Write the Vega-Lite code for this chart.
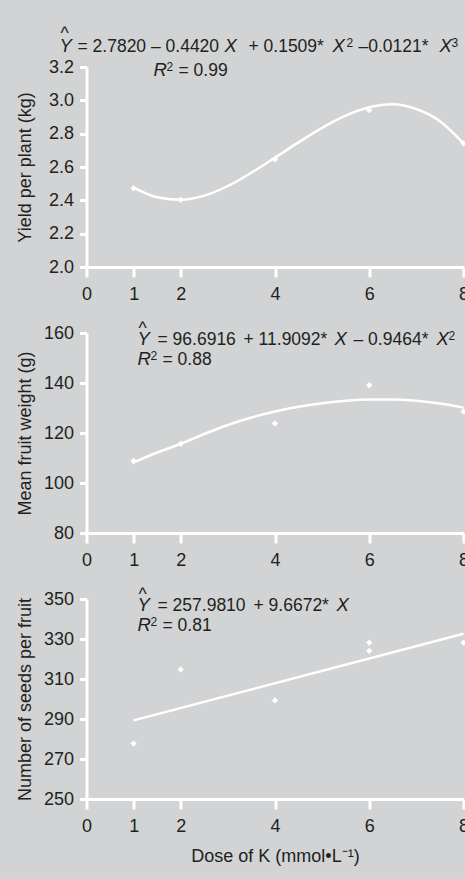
{
  "$schema": "https://vega.github.io/schema/vega-lite/v6.json",
  "background": "#d1d3d4",
  "padding": {"left": 15.5, "top": 25, "right": 5, "bottom": 14},
  "bounds": "flush",
  "spacing": 66,
  "datasets": {
    "pts1": [{"x":1,"y":2.472},{"x":2,"y":2.403},{"x":4,"y":2.646},{"x":6,"y":2.941},{"x":8,"y":2.742}],
    "fit1": [{"x":1,"y":2.476},{"x":1.5,"y":2.418},{"x":2,"y":2.403},{"x":2.5,"y":2.428},{"x":3,"y":2.486},{"x":3.5,"y":2.566},{"x":4,"y":2.656},{"x":4.5,"y":2.748},{"x":5,"y":2.835},{"x":5.5,"y":2.908},{"x":6,"y":2.958},{"x":6.5,"y":2.977},{"x":7,"y":2.948},{"x":7.5,"y":2.875},{"x":8,"y":2.742}],
    "eq1r": [{"x":-0.552,"y":3.368,"label":"^"},{"x":-0.191,"y":3.29,"label":"= 2.7820 – 0.4420"},{"x":3.437,"y":3.29,"label":"+ 0.1509*"},{"x":5.772,"y":3.29,"label":"–0.0121*"},{"x":1.952,"y":3.146,"label":"= 0.99"}],
    "eq1i": [{"x":-0.573,"y":3.29,"label":"Y"},{"x":2.928,"y":3.29,"label":"X"},{"x":5.22,"y":3.29,"label":"X"},{"x":7.49,"y":3.29,"label":"X"},{"x":1.422,"y":3.146,"label":"R"}],
    "eq1s": [{"x":5.517,"y":3.32,"label":"2"},{"x":7.746,"y":3.32,"label":"3"},{"x":1.698,"y":3.176,"label":"2"}],
    "pts2": [{"x":1,"y":108.8},{"x":2,"y":115.7},{"x":4,"y":123.8},{"x":6,"y":139.1},{"x":8,"y":128.6}],
    "fit2": [{"x":1,"y":108.2},{"x":1.5,"y":112.2},{"x":2,"y":115.7},{"x":2.5,"y":119.6},{"x":3,"y":123.2},{"x":3.5,"y":126.2},{"x":4,"y":128.6},{"x":4.5,"y":130.5},{"x":5,"y":131.9},{"x":5.5,"y":132.9},{"x":6,"y":133.4},{"x":6.5,"y":133.4},{"x":7,"y":132.9},{"x":7.5,"y":131.8},{"x":8,"y":130.2}],
    "eq2r": [{"x":1.103,"y":159.6,"label":"^"},{"x":1.507,"y":155.2,"label":"= 96.6916"},{"x":3.332,"y":155.2,"label":"+ 11.9092*"},{"x":5.666,"y":155.2,"label":"– 0.9464*"},{"x":1.613,"y":147.2,"label":"= 0.88"}],
    "eq2i": [{"x":1.082,"y":155.2,"label":"Y"},{"x":5.263,"y":155.2,"label":"X"},{"x":7.427,"y":155.2,"label":"X"},{"x":1.082,"y":147.2,"label":"R"}],
    "eq2s": [{"x":7.682,"y":157.2,"label":"2"},{"x":1.358,"y":149.2,"label":"2"}],
    "pts3": [{"x":1,"y":277.7},{"x":2,"y":314.8},{"x":4,"y":299.3},{"x":6,"y":328.2},{"x":6,"y":324.1},{"x":8,"y":328.2}],
    "fit3": [{"x":1,"y":289.3},{"x":8,"y":332.6}],
    "eq3r": [{"x":1.103,"y":349.5,"label":"^"},{"x":1.507,"y":344,"label":"= 257.9810"},{"x":3.544,"y":344,"label":"+ 9.6672*"},{"x":1.613,"y":334,"label":"= 0.81"}],
    "eq3i": [{"x":1.082,"y":344,"label":"Y"},{"x":5.305,"y":344,"label":"X"},{"x":1.082,"y":334,"label":"R"}],
    "eq3s": [{"x":1.358,"y":336.5,"label":"2"}]
  },
  "vconcat": [
    {
      "width": 377, "height": 200,
      "layer": [
        {"data": {"name": "fit1"}, "mark": {"type": "line", "color": "white", "strokeWidth": 2.5, "interpolate": "monotone"},
         "encoding": {
           "x": {"field": "x", "type": "quantitative", "scale": {"domain": [0, 8], "nice": false}, "axis": {"title": null, "values": [0,1,2,4,6,8], "tickCount": 10, "labelOverlap": false}},
           "y": {"field": "y", "type": "quantitative", "scale": {"domain": [2.0, 3.2], "nice": false, "zero": false}, "axis": {"title": "Yield per plant (kg)", "values": [2.0,2.2,2.4,2.6,2.8,3.0,3.2], "tickCount": 10, "format": ".1f", "labelOverlap": false}}}},
        {"data": {"name": "pts1"}, "mark": {"type": "point", "shape": "diamond", "filled": true, "color": "white", "opacity": 1, "size": 40},
         "encoding": {"x": {"field": "x", "type": "quantitative"}, "y": {"field": "y", "type": "quantitative"}}},
        {"data": {"name": "eq1r"}, "mark": {"type": "text", "align": "left", "baseline": "alphabetic", "fontSize": 17.5, "font": "Liberation Sans", "color": "#231f20"},
         "encoding": {"x": {"field": "x", "type": "quantitative"}, "y": {"field": "y", "type": "quantitative"}, "text": {"field": "label"}}},
        {"data": {"name": "eq1i"}, "mark": {"type": "text", "align": "left", "baseline": "alphabetic", "fontSize": 18.5, "fontStyle": "italic", "font": "Liberation Sans", "color": "#231f20"},
         "encoding": {"x": {"field": "x", "type": "quantitative"}, "y": {"field": "y", "type": "quantitative"}, "text": {"field": "label"}}},
        {"data": {"name": "eq1s"}, "mark": {"type": "text", "align": "left", "baseline": "alphabetic", "fontSize": 12, "font": "Liberation Sans", "color": "#231f20"},
         "encoding": {"x": {"field": "x", "type": "quantitative"}, "y": {"field": "y", "type": "quantitative"}, "text": {"field": "label"}}}
      ]
    },
    {
      "width": 377, "height": 200,
      "layer": [
        {"data": {"name": "fit2"}, "mark": {"type": "line", "color": "white", "strokeWidth": 2.5, "interpolate": "monotone"},
         "encoding": {
           "x": {"field": "x", "type": "quantitative", "scale": {"domain": [0, 8], "nice": false}, "axis": {"title": null, "values": [0,1,2,4,6,8], "tickCount": 10, "labelOverlap": false}},
           "y": {"field": "y", "type": "quantitative", "scale": {"domain": [80, 160], "nice": false, "zero": false}, "axis": {"title": "Mean fruit weight (g)", "values": [80,100,120,140,160], "tickCount": 10, "labelOverlap": false}}}},
        {"data": {"name": "pts2"}, "mark": {"type": "point", "shape": "diamond", "filled": true, "color": "white", "opacity": 1, "size": 40},
         "encoding": {"x": {"field": "x", "type": "quantitative"}, "y": {"field": "y", "type": "quantitative"}}},
        {"data": {"name": "eq2r"}, "mark": {"type": "text", "align": "left", "baseline": "alphabetic", "fontSize": 17.5, "font": "Liberation Sans", "color": "#231f20"},
         "encoding": {"x": {"field": "x", "type": "quantitative"}, "y": {"field": "y", "type": "quantitative"}, "text": {"field": "label"}}},
        {"data": {"name": "eq2i"}, "mark": {"type": "text", "align": "left", "baseline": "alphabetic", "fontSize": 18.5, "fontStyle": "italic", "font": "Liberation Sans", "color": "#231f20"},
         "encoding": {"x": {"field": "x", "type": "quantitative"}, "y": {"field": "y", "type": "quantitative"}, "text": {"field": "label"}}},
        {"data": {"name": "eq2s"}, "mark": {"type": "text", "align": "left", "baseline": "alphabetic", "fontSize": 12, "font": "Liberation Sans", "color": "#231f20"},
         "encoding": {"x": {"field": "x", "type": "quantitative"}, "y": {"field": "y", "type": "quantitative"}, "text": {"field": "label"}}}
      ]
    },
    {
      "width": 377, "height": 200,
      "layer": [
        {"data": {"name": "fit3"}, "mark": {"type": "line", "color": "white", "strokeWidth": 2.5},
         "encoding": {
           "x": {"field": "x", "type": "quantitative", "scale": {"domain": [0, 8], "nice": false}, "axis": {"title": "Dose of K (mmol•L⁻¹)", "values": [0,1,2,4,6,8], "tickCount": 10, "labelOverlap": false}},
           "y": {"field": "y", "type": "quantitative", "scale": {"domain": [250, 350], "nice": false, "zero": false}, "axis": {"title": "Number of seeds per fruit", "values": [250,270,290,310,330,350], "tickCount": 10, "labelOverlap": false}}}},
        {"data": {"name": "pts3"}, "mark": {"type": "point", "shape": "diamond", "filled": true, "color": "white", "opacity": 1, "size": 40},
         "encoding": {"x": {"field": "x", "type": "quantitative"}, "y": {"field": "y", "type": "quantitative"}}},
        {"data": {"name": "eq3r"}, "mark": {"type": "text", "align": "left", "baseline": "alphabetic", "fontSize": 17.5, "font": "Liberation Sans", "color": "#231f20"},
         "encoding": {"x": {"field": "x", "type": "quantitative"}, "y": {"field": "y", "type": "quantitative"}, "text": {"field": "label"}}},
        {"data": {"name": "eq3i"}, "mark": {"type": "text", "align": "left", "baseline": "alphabetic", "fontSize": 18.5, "fontStyle": "italic", "font": "Liberation Sans", "color": "#231f20"},
         "encoding": {"x": {"field": "x", "type": "quantitative"}, "y": {"field": "y", "type": "quantitative"}, "text": {"field": "label"}}},
        {"data": {"name": "eq3s"}, "mark": {"type": "text", "align": "left", "baseline": "alphabetic", "fontSize": 12, "font": "Liberation Sans", "color": "#231f20"},
         "encoding": {"x": {"field": "x", "type": "quantitative"}, "y": {"field": "y", "type": "quantitative"}, "text": {"field": "label"}}}
      ]
    }
  ],
  "config": {
    "view": {"stroke": null},
    "axis": {
      "grid": false,
      "domainColor": "white", "domainWidth": 3,
      "tickColor": "white", "tickWidth": 3,
      "labelColor": "#231f20", "labelFont": "Liberation Sans", "labelFontSize": 18,
      "titleColor": "#231f20", "titleFont": "Liberation Sans", "titleFontSize": 18, "titleFontWeight": "normal"
    },
    "axisX": {"tickSize": 10, "labelPadding": 8, "titlePadding": 12, "labelFlush": false, "labelOverlap": false},
    "axisY": {"tickSize": 7, "labelPadding": 6, "titleX": -52, "labelOverlap": false}
  }
}
